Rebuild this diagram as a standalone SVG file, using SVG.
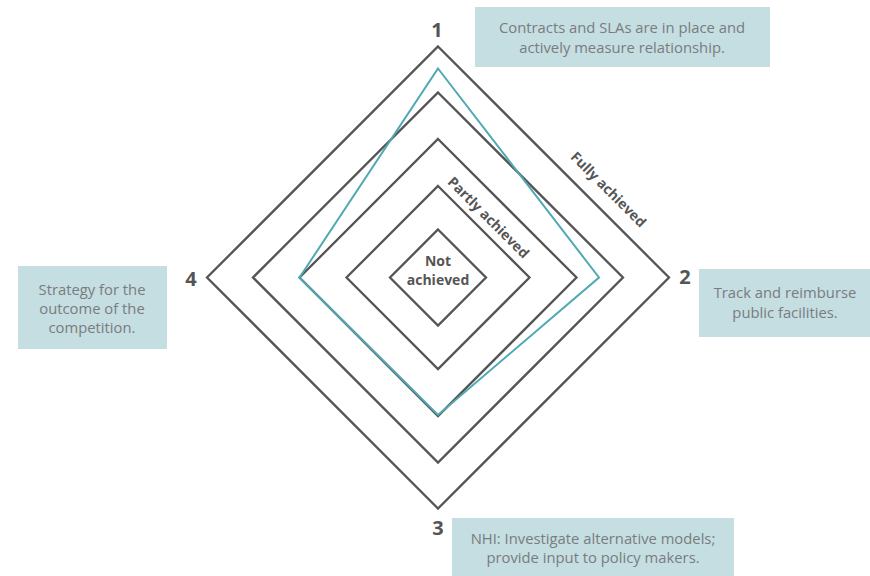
<svg xmlns="http://www.w3.org/2000/svg" width="870" height="576" viewBox="0 0 870 576">
<style>
.ring{fill:none;stroke:#555555;stroke-width:2.3;stroke-linejoin:miter}
.score{fill:none;stroke:#4fa9b3;stroke-width:2}
.box{fill:#c4dee2}
.bt{font-family:"Open Sans",Lato,sans-serif;font-size:14.8px;fill:#7a7c7e;text-anchor:middle}
.num{font-family:"Open Sans",Lato,sans-serif;font-size:20px;font-weight:bold;fill:#555555;text-anchor:middle}
.lvl{font-family:"Open Sans",Lato,sans-serif;font-size:14px;font-weight:bold;fill:#555555;text-anchor:middle}
</style>
<g id="rings">
<polygon id="ring-full" class="ring" points="438,46.5 669,277.5 438,508.5 207,277.5"/>
<polygon id="ring-3" class="ring" points="438,92.5 623,277.5 438,462.5 253,277.5"/>
<polygon id="ring-2" class="ring" points="438,139 576.5,277.5 438,416 299.5,277.5"/>
<polygon id="ring-partly" class="ring" points="438,186 529.5,277.5 438,369 346.5,277.5"/>
<polygon id="ring-not" class="ring" points="438,229.5 486,277.5 438,325.5 390,277.5"/>
</g>
<g id="connectors">
<polygon id="score" class="score" points="438,68.5 599,277.5 438,415 299.5,277.5"/>
</g>
<g id="level-labels">
<text class="lvl" x="438" y="266">Not</text>
<text class="lvl" x="438" y="285">achieved</text>
<text class="lvl" transform="translate(485,221) rotate(45)" x="0" y="0">Partly achieved</text>
<text class="lvl" transform="translate(605,193) rotate(45)" x="0" y="0">Fully achieved</text>
</g>
<g id="node-1">
<text class="num" x="437" y="37">1</text>
<rect class="box" x="475" y="7" width="295" height="60"/>
<text class="bt" x="622" y="33">Contracts and SLAs are in place and</text>
<text class="bt" x="622" y="53">actively measure relationship.</text>
</g>
<g id="node-2">
<text class="num" x="685" y="284">2</text>
<rect class="box" x="699" y="269" width="171" height="68"/>
<text class="bt" x="785" y="298">Track and reimburse</text>
<text class="bt" x="785" y="318">public facilities.</text>
</g>
<g id="node-3">
<text class="num" x="438" y="535">3</text>
<rect class="box" x="452" y="518" width="282" height="58"/>
<text class="bt" x="593" y="544">NHI: Investigate alternative models;</text>
<text class="bt" x="593" y="563">provide input to policy makers.</text>
</g>
<g id="node-4">
<text class="num" x="191" y="286">4</text>
<rect class="box" x="18" y="266" width="149" height="83"/>
<text class="bt" x="92" y="295">Strategy for the</text>
<text class="bt" x="92" y="314">outcome of the</text>
<text class="bt" x="92" y="333">competition.</text>
</g>
</svg>
